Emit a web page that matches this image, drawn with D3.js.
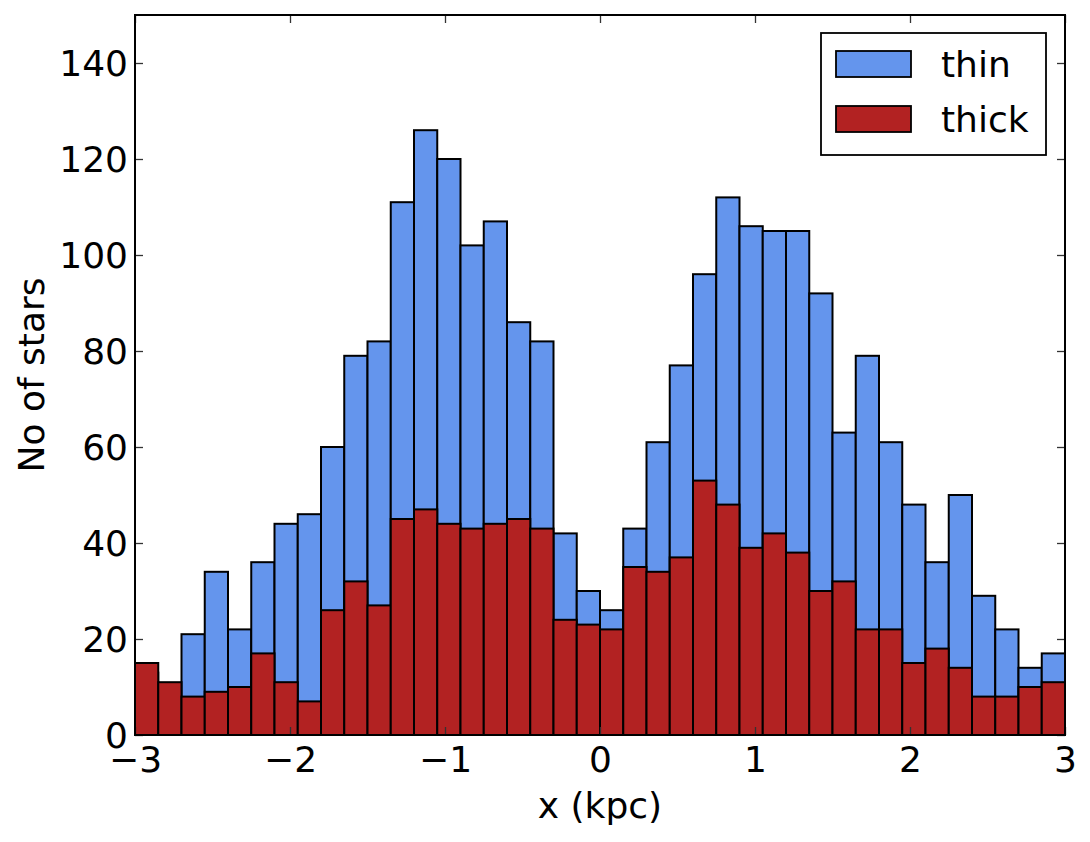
<!DOCTYPE html>
<html>
<head>
<meta charset="utf-8">
<script src="https://cdn.jsdelivr.net/npm/d3@7"></script>
<style>
  body { margin: 0; background: #fff; }
  text { font-family: "DejaVu Sans", sans-serif; fill: #000; }
</style>
</head>
<body>
<svg id="chart"></svg>
<script>
// histogram of star x positions, thin vs thick disc (overlaid, thin behind)

var width = 1090,
    height = 842;

var xTicks = [-3, -2, -1, 0, 1, 2, 3];
var yTicks = [0, 20, 40, 60, 80, 100, 120, 140];

// 40 bins of 0.15 kpc from -3 to 3
var binEdges = d3.range(41).map(i => -3 + i * 0.15);

var thinCounts = [13, 9, 21, 34, 22, 36, 44, 46, 60, 79,
                  82, 111, 126, 120, 102, 107, 86, 82, 42, 30,
                  26, 43, 61, 77, 96, 112, 106, 105, 105, 92,
                  63, 79, 61, 48, 36, 50, 29, 22, 14, 17];

var thickCounts = [15, 11, 8, 9, 10, 17, 11, 7, 26, 32,
                   27, 45, 47, 44, 43, 44, 45, 43, 24, 23,
                   22, 35, 34, 37, 53, 48, 39, 42, 38, 30,
                   32, 22, 22, 15, 18, 14, 8, 8, 10, 11];

var series = [
  {name: 'thin', counts: thinCounts, color: '#6495ed'},
  {name: 'thick', counts: thickCounts, color: '#b22222'}
];

var margin = {left: 135, right: 25, top: 15, bottom: 107};

var svg = d3.select('#chart')
  .attr('width', width)
  .attr('height', height);

var x = d3.scaleLinear()
  .domain([-3, 3])
  .range([margin.left, width - margin.right]);

var y = d3.scaleLinear()
  .domain([0, 150])
  .range([height - margin.bottom, margin.top]);

// bars
series.forEach(function(s) {
  var bins = s.counts.map((c, i) => ({x0: binEdges[i], x1: binEdges[i + 1], n: c}));
  svg.append('g')
    .selectAll('rect')
    .data(bins)
    .enter()
    .append('rect')
      .attr('x', d => x(d.x0))
      .attr('y', d => y(d.n))
      .attr('width', d => x(d.x1) - x(d.x0))
      .attr('height', d => y(0) - y(d.n))
      .attr('fill', s.color)
      .attr('stroke', '#000')
      .attr('stroke-width', 2);
});

// ticks pointing inward on all four sides, matplotlib classic look
var fmt = d => d < 0 ? '\u2212' + Math.abs(d) : String(d);
var tickLen = 8;

var axB = svg.append('g')
  .attr('transform', 'translate(0,' + y(0) + ')')
  .call(d3.axisBottom(x).tickValues(xTicks).tickFormat(fmt).tickSizeInner(-tickLen).tickSizeOuter(0).tickPadding(11));
var axT = svg.append('g')
  .attr('transform', 'translate(0,' + y(150) + ')')
  .call(d3.axisTop(x).tickValues(xTicks).tickFormat('').tickSizeInner(-tickLen).tickSizeOuter(0));
var axL = svg.append('g')
  .attr('transform', 'translate(' + x(-3) + ',0)')
  .call(d3.axisLeft(y).tickValues(yTicks).tickFormat(fmt).tickSizeInner(-tickLen).tickSizeOuter(0).tickPadding(7));
var axR = svg.append('g')
  .attr('transform', 'translate(' + x(3) + ',0)')
  .call(d3.axisRight(y).tickValues(yTicks).tickFormat('').tickSizeInner(-tickLen).tickSizeOuter(0));

[axB, axT, axL, axR].forEach(function(g) {
  g.select('.domain').remove();
  g.selectAll('line').attr('stroke', '#333').attr('stroke-width', 1.3);
  g.selectAll('text').style('font-size', '36px').attr('fill', '#000');
});
axL.selectAll('text').attr('dy', '0.36em');
axB.selectAll('text').attr('dy', '0.72em');

// frame
svg.append('rect')
  .attr('x', x(-3))
  .attr('y', y(150))
  .attr('width', x(3) - x(-3))
  .attr('height', y(0) - y(150))
  .attr('fill', 'none')
  .attr('stroke', '#000')
  .attr('stroke-width', 2);

// axis labels
svg.append('text')
  .attr('x', (x(-3) + x(3)) / 2)
  .attr('y', 818)
  .style('font-size', '36px')
  .style('text-anchor', 'middle')
  .text('x (kpc)');

svg.append('text')
  .attr('transform', 'translate(44,' + (y(0) + y(150)) / 2 + ') rotate(-90)')
  .style('font-size', '36px')
  .style('text-anchor', 'middle')
  .text('No of stars');

// legend
var legend = svg.append('g');
legend.append('rect')
  .attr('x', 821)
  .attr('y', 33)
  .attr('width', 225)
  .attr('height', 122)
  .attr('fill', '#fff')
  .attr('stroke', '#000')
  .attr('stroke-width', 1.8);

series.forEach(function(s, i) {
  var top = 51 + i * 55;
  legend.append('rect')
    .attr('x', 836)
    .attr('y', top)
    .attr('width', 75)
    .attr('height', 26)
    .attr('fill', s.color)
    .attr('stroke', '#000')
    .attr('stroke-width', 1.8);
  legend.append('text')
    .attr('x', 941)
    .attr('y', top + 26)
    .style('font-size', '36px')
    .text(s.name);
});
</script>
</body>
</html>
